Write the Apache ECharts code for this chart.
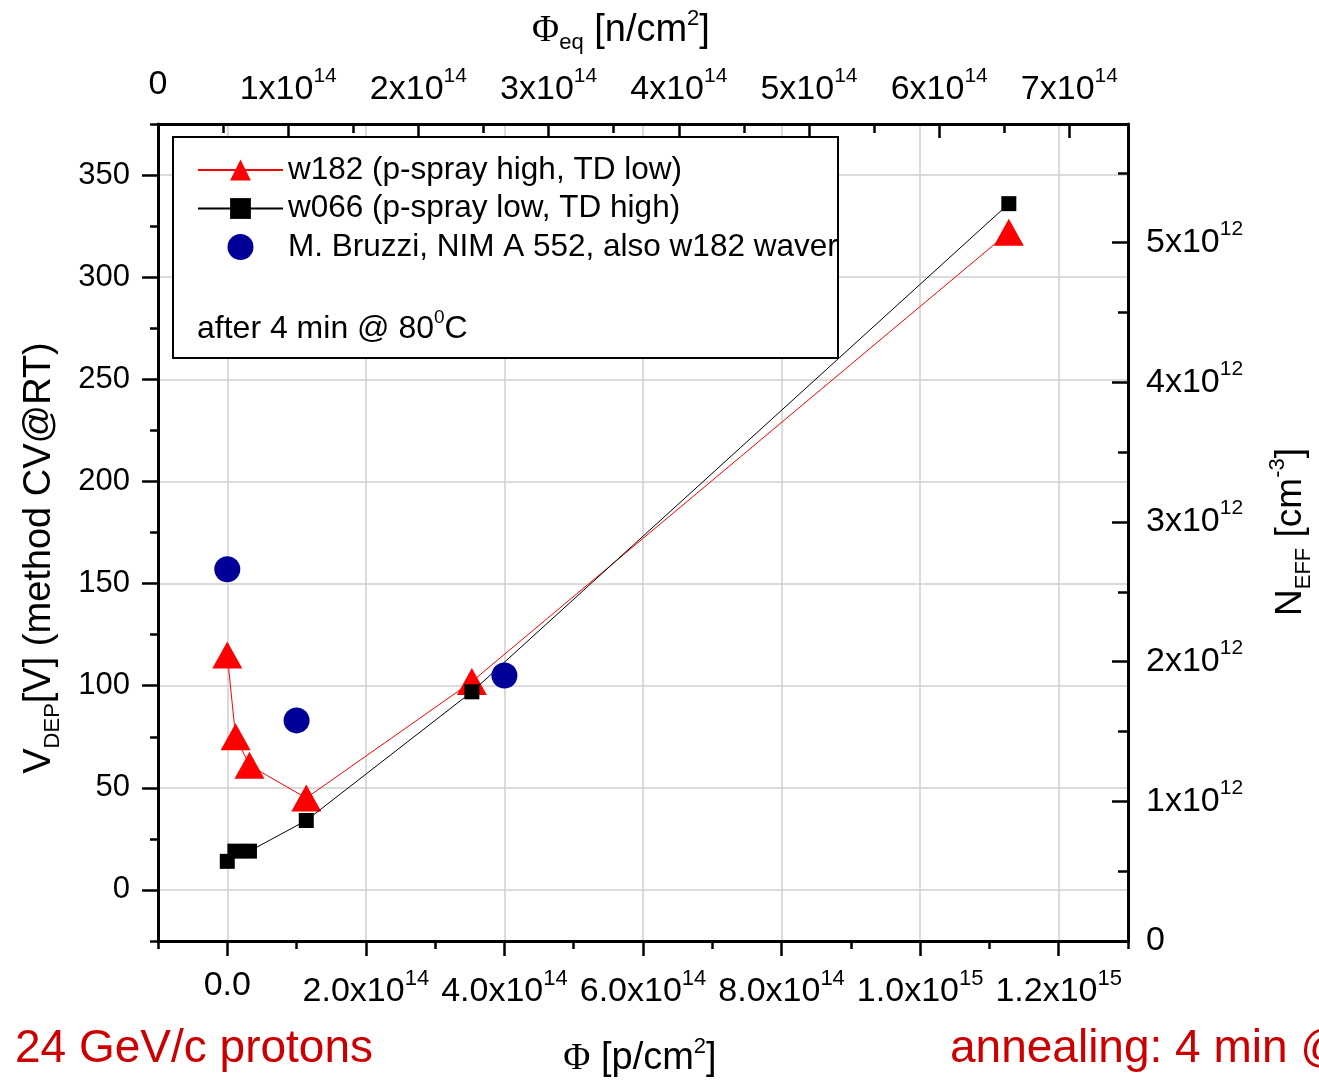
<!DOCTYPE html>
<html><head><meta charset="utf-8">
<script src="https://cdn.jsdelivr.net/npm/echarts@6/dist/echarts.min.js"></script>
<style>html,body{margin:0;padding:0;background:#fff}#c{width:1319px;height:1082px}</style>
</head><body><div id="c"></div>
<script>
// ---- data ----
const w182X = [0, 1.2e13, 3.2e13, 1.14e14, 3.53e14, 1.128e15];
const w182Y = [115, 75, 61, 45, 102, 322];
const w066X = [0, 1.1e13, 3.2e13, 1.14e14, 3.53e14, 1.128e15];
const w066Y = [14, 19, 19, 34, 97, 336];
const bruzziX = [0, 1.0e14, 4.0e14];
const bruzziY = [157, 83, 105];
const seriesNames = ['w182 (p-spray high, TD low)', 'w066 (p-spray low, TD high)', 'M. Bruzzi, NIM A 552, also w182 waver'];

const bottomTicks = [0, 2e14, 4e14, 6e14, 8e14, 1e15, 1.2e15];
const bottomLabels = [['0.0',''],['2.0x10','14'],['4.0x10','14'],['6.0x10','14'],['8.0x10','14'],['1.0x10','15'],['1.2x10','15']];
const bottomMinorTicks = [-1e14, 1e14, 3e14, 5e14, 7e14, 9e14, 1.1e15, 1.3e15];
const topTicks = [0, 1e14, 2e14, 3e14, 4e14, 5e14, 6e14, 7e14];
const topLabels = [['0',''],['1x10','14'],['2x10','14'],['3x10','14'],['4x10','14'],['5x10','14'],['6x10','14'],['7x10','14']];
const topMinorTicks = [0.5e14, 1.5e14, 2.5e14, 3.5e14, 4.5e14, 5.5e14, 6.5e14];
const leftTicks = [0, 50, 100, 150, 200, 250, 300, 350];
const leftMinorTicks = [-25, 25, 75, 125, 175, 225, 275, 325, 375];
const rightTicks = [0, 1e12, 2e12, 3e12, 4e12, 5e12];
const rightLabels = [['0',''],['1x10','12'],['2x10','12'],['3x10','12'],['4x10','12'],['5x10','12']];
const rightMinorTicks = [0.5e12, 1.5e12, 2.5e12, 3.5e12, 4.5e12, 5.5e12];

// ---- helpers ----
const F = "'Liberation Sans', Arial, sans-serif";
const SERIF = "'Liberation Serif', 'Times New Roman', serif";
function makeFmt(vals, labels) {
  return function (v) {
    const i = vals.findIndex(t => Math.abs(t - v) <= Math.abs(t) * 1e-9 + 1e-9);
    if (i < 0) return '';
    const m = labels[i][0], e = labels[i][1];
    return e ? '{a|' + m + '}{s|' + e + '}' : '{z|' + m + '}';
  };
}
const pair = (xs, ys) => xs.map((x, i) => [x, ys[i]]);

const chart = echarts.init(document.getElementById('c'), null, {renderer: 'canvas'});
const axisLineStyle = {color: '#000', width: 3};
const gridLine = {show: true, lineStyle: {color: '#cfcfcf', width: 1.5}};

const option = {
  animation: false,
  backgroundColor: '#fff',
  grid: {left: 158, right: 191, top: 124, bottom: 141, containLabel: false, outerBoundsMode: 'none'},
  xAxis: [
    { // bottom main
      type: 'value', position: 'bottom', min: -1e14, max: 1.3e15, interval: 1e14,
      axisLine: {show: true, onZero: false, lineStyle: axisLineStyle},
      axisTick: {show: true, inside: false, length: 15, customValues: bottomTicks, lineStyle: {color: '#000', width: 2.5}},
      axisLabel: {show: true, customValues: bottomTicks, margin: 27, formatter: makeFmt(bottomTicks, bottomLabels),
        color: '#000',
        rich: {a: {fontSize: 34, lineHeight: 48, fontFamily: F, color: '#000'},
               s: {fontSize: 22, lineHeight: 22, fontFamily: F, color: '#000', verticalAlign: 'top'},
               z: {fontSize: 34, lineHeight: 36, fontFamily: F, color: '#000'}}},
      splitLine: gridLine
    },
    { // bottom minor ticks
      type: 'value', position: 'bottom', offset: 0, min: -1e14, max: 1.3e15, interval: 1e14,
      axisLine: {show: false, onZero: false},
      axisTick: {show: true, inside: false, length: 8, customValues: bottomMinorTicks, lineStyle: {color: '#000', width: 2.5}},
      axisLabel: {show: false}, splitLine: {show: false}
    },
    { // top phi_eq
      type: 'value', position: 'top', min: 0, max: 7.45e14, interval: 0.5e14,
      axisLine: {show: true, onZero: false, lineStyle: axisLineStyle},
      axisTick: {show: true, inside: true, length: 14, customValues: topTicks, lineStyle: {color: '#000', width: 2.5}},
      axisLabel: {show: true, customValues: topTicks, margin: 10, formatter: makeFmt(topTicks, topLabels),
        rich: {a: {fontSize: 34, lineHeight: 48, fontFamily: F, color: '#000'},
               s: {fontSize: 21, lineHeight: 21, fontFamily: F, color: '#000', verticalAlign: 'top'},
               z: {fontSize: 34, lineHeight: 58, fontFamily: F, color: '#000'}}},
      splitLine: {show: false}
    },
    { // top minor ticks
      type: 'value', position: 'top', offset: 0, min: 0, max: 7.45e14, interval: 0.5e14,
      axisLine: {show: false, onZero: false},
      axisTick: {show: true, inside: true, length: 9, customValues: topMinorTicks, lineStyle: {color: '#000', width: 2.5}},
      axisLabel: {show: false}, splitLine: {show: false}
    }
  ],
  yAxis: [
    { // left main
      type: 'value', position: 'left', min: -25, max: 375, interval: 25,
      axisLine: {show: true, onZero: false, lineStyle: axisLineStyle},
      axisTick: {show: true, inside: false, length: 16, customValues: leftTicks, lineStyle: {color: '#000', width: 2.5}},
      axisLabel: {show: true, customValues: leftTicks, margin: 28, fontSize: 31, fontFamily: F, color: '#000'},
      splitLine: gridLine
    },
    { // left minor
      type: 'value', position: 'left', offset: 0, min: -25, max: 375, interval: 25,
      axisLine: {show: false, onZero: false},
      axisTick: {show: true, inside: false, length: 8, customValues: leftMinorTicks, lineStyle: {color: '#000', width: 2.5}},
      axisLabel: {show: false}, splitLine: {show: false}
    },
    { // right N_eff
      type: 'value', position: 'right', min: 0, max: 5.85e12, interval: 0.5e12,
      axisLine: {show: true, onZero: false, lineStyle: axisLineStyle},
      axisTick: {show: true, inside: true, length: 16, customValues: rightTicks, lineStyle: {color: '#000', width: 2.5}},
      axisLabel: {show: true, customValues: rightTicks, margin: 18, formatter: makeFmt(rightTicks, rightLabels),
        rich: {a: {fontSize: 34, lineHeight: 48, fontFamily: F, color: '#000'},
               s: {fontSize: 21, lineHeight: 21, fontFamily: F, color: '#000', verticalAlign: 'top'},
               z: {fontSize: 34, lineHeight: 48, fontFamily: F, color: '#000'}}},
      splitLine: {show: false}
    },
    { // right minor
      type: 'value', position: 'right', offset: 0, min: 0, max: 5.85e12, interval: 0.5e12,
      axisLine: {show: false, onZero: false},
      axisTick: {show: true, inside: true, length: 10, customValues: rightMinorTicks, lineStyle: {color: '#000', width: 2.5}},
      axisLabel: {show: false}, splitLine: {show: false}
    }
  ],
  legend: {
    orient: 'vertical', left: 197, top: 154, padding: 0,
    itemWidth: 85, itemHeight: 26, itemGap: 6.5, z: 6,
    textStyle: {fontSize: 31.5, fontFamily: F, color: '#000', lineHeight: 32},
    data: seriesNames, selectedMode: false
  },
  series: [
    {
      name: seriesNames[0], type: 'line', xAxisIndex: 0, yAxisIndex: 0,
      data: pair(w182X, w182Y),
      symbol: 'triangle', symbolSize: [30, 27], showSymbol: true,
      itemStyle: {color: '#ff0000'}, lineStyle: {color: '#ff0000', width: 1}, z: 2
    },
    {
      name: seriesNames[1], type: 'line', xAxisIndex: 0, yAxisIndex: 0,
      data: pair(w066X, w066Y),
      symbol: 'rect', symbolSize: 15, showSymbol: true,
      itemStyle: {color: '#000000'}, lineStyle: {color: '#000000', width: 1}, z: 3
    },
    {
      name: seriesNames[2], type: 'scatter', xAxisIndex: 0, yAxisIndex: 0,
      data: pair(bruzziX, bruzziY),
      symbol: 'circle', symbolSize: 26,
      itemStyle: {color: '#000099', opacity: 1}, z: 4
    }
  ],
  graphic: [
    {type: 'rect', z: 3, shape: {x: 173, y: 137, width: 665, height: 221},
     style: {fill: '#fff', stroke: '#000', lineWidth: 2}},
    {type: 'text', z: 7, x: 197, y: 329,
     style: {text: '{t|after 4 min @ 80}{s|0}{t|C}', verticalAlign: 'middle', align: 'left',
       rich: {t: {fontSize: 32, lineHeight: 42, fontFamily: F, fill: '#000'},
              s: {fontSize: 19, lineHeight: 19, fontFamily: F, fill: '#000', verticalAlign: 'top'}}}},
    // top title
    {type: 'text', z: 7, x: 621, y: 31,
     style: {text: '{p|Φ}{b|eq}{t| [n/cm}{s|2}{t|]}', align: 'center', verticalAlign: 'middle',
       rich: {p: {fontSize: 37, lineHeight: 46, fontFamily: SERIF, fill: '#000'},
              t: {fontSize: 38, lineHeight: 46, fontFamily: F, fill: '#000'},
              b: {fontSize: 22, lineHeight: 22, fontFamily: F, fill: '#000', verticalAlign: 'bottom'},
              s: {fontSize: 22, lineHeight: 22, fontFamily: F, fill: '#000', verticalAlign: 'top'}}}},
    // bottom title
    {type: 'text', z: 7, x: 640, y: 1059,
     style: {text: '{p|Φ}{t| [p/cm}{s|2}{t|]}', align: 'center', verticalAlign: 'middle',
       rich: {p: {fontSize: 37, lineHeight: 46, fontFamily: SERIF, fill: '#000'},
              t: {fontSize: 38, lineHeight: 46, fontFamily: F, fill: '#000'},
              s: {fontSize: 22, lineHeight: 22, fontFamily: F, fill: '#000', verticalAlign: 'top'}}}},
    // left title
    {type: 'text', z: 7, x: 40, y: 558, rotation: Math.PI / 2,
     style: {text: '{t|V}{b|DEP}{t|[V] (method CV@RT)}', align: 'center', verticalAlign: 'middle',
       rich: {t: {fontSize: 38, lineHeight: 48, fontFamily: F, fill: '#000'},
              b: {fontSize: 22, lineHeight: 22, fontFamily: F, fill: '#000', verticalAlign: 'bottom'}}}},
    // right title
    {type: 'text', z: 7, x: 1291, y: 532, rotation: Math.PI / 2,
     style: {text: '{t|N}{b|EFF}{t| [cm}{s|-3}{t|]}', align: 'center', verticalAlign: 'middle',
       rich: {t: {fontSize: 37, lineHeight: 48, fontFamily: F, fill: '#000'},
              b: {fontSize: 22, lineHeight: 22, fontFamily: F, fill: '#000', verticalAlign: 'bottom'},
              s: {fontSize: 22, lineHeight: 22, fontFamily: F, fill: '#000', verticalAlign: 'top'}}}},
    // red annotations
    {type: 'text', z: 7, x: 15, y: 1049,
     style: {text: '24 GeV/c protons', fontSize: 46, fontFamily: F, fill: '#cc0000', align: 'left', verticalAlign: 'middle'}},
    {type: 'text', z: 7, x: 950, y: 1049,
     style: {text: 'annealing: 4 min @ 80°C', fontSize: 46, fontFamily: F, fill: '#cc0000', align: 'left', verticalAlign: 'middle'}}
  ]
};
chart.setOption(option);
</script>
</body></html>
